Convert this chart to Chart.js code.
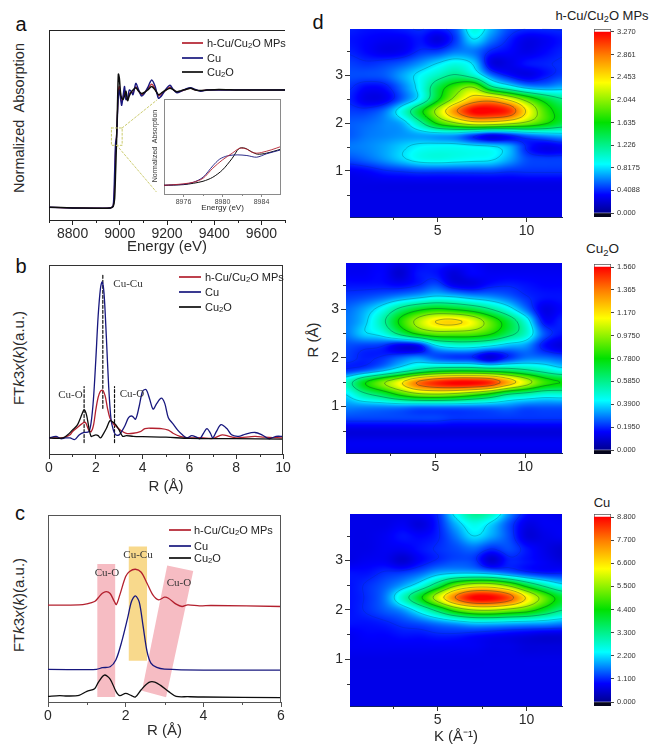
<!DOCTYPE html>
<html><head><meta charset="utf-8">
<script src="https://cdn.jsdelivr.net/npm/chart.js@4/dist/chart.umd.min.js"></script>
<style>
html,body{margin:0;padding:0;background:#fff;overflow:hidden;width:653px;height:749px;font-family:"Liberation Sans",Arial,sans-serif;color:#222}
canvas{position:absolute;display:block}
.t{position:absolute;white-space:pre;line-height:1;z-index:5}
.t sub{font-size:.7em;line-height:0;vertical-align:-.25em}
.sw{position:absolute;height:2px;opacity:.85;z-index:5}
</style></head><body>
<script>
// ---------- Panel a: XANES ----------
const aEnergy=[8700,8800,8900,8960,8972,8978,8982,8986,8990,8994,8998,9003,9008,9014,9020,9026,9033,9040,9048,9056,9068,9080,9092,9104,9118,9135,9150,9164,9180,9196,9213,9228,9242,9260,9280,9300,9320,9342,9370,9420,9500,9600,9700];
const aHybrid=[.008,.002,0,.002,.02,.2,.5,.6,.8,1.0,1.03,.95,.9,.94,.99,.93,.92,.97,.98,.98,1.03,.99,.96,.975,1.01,1.05,1.01,.95,.97,1.0,1.025,1.0,.98,.99,1.005,1.015,1.0,.995,1.0,1.0,1.0,1.0,1.0];
const aCu=[.008,.002,0,.002,.02,.3,.55,.6,.78,.95,1.0,.93,.87,.95,1.03,.92,.93,1.0,.99,.96,1.056,1.0,.95,.97,1.02,1.085,1.03,.93,.96,1.01,1.04,1.0,.977,.99,1.01,1.02,1.005,.99,1.0,1.0,1.0,1.0,1.0];
const aCu2O=[.008,.002,0,.002,.015,.08,.3,.55,.85,1.135,1.1,.98,.93,.92,.95,.99,.91,.95,.98,1.0,1.02,.99,.97,.98,1.0,1.03,1.0,.96,.98,1.0,1.015,1.0,.985,.995,1.005,1.015,1.0,.995,1.0,1.005,1.0,1.0,1.0];
const aZoomBoxE=[8964.5,9010,9010,8964.5,8964.5];
const aZoomBoxV=[.679,.679,.532,.532,.679];
const aLeaderTopE=[9010,9157], aLeaderTopV=[.679,.915];
const aLeaderBotE=[8987,9154], aLeaderBotV=[.532,.14];
// inset of a
const inHybE=[8974,8975.5,8977,8978,8979,8980,8981,8981.8,8982.5,8983,8983.5,8984,8985,8986];
const inHybH=[26,29,35,47,77,102,122,137,134,125,122,124,132,142];
const inCu2OE=[8974,8976,8977,8978,8979,8980,8981,8981.7,8982.3,8983,8983.6,8984.5,8986];
const inCu2OH=[26,28,32,38,50,72,107,136,137,126,119,122,134];
const inCuE=[8974,8976,8977,8978,8979,8979.7,8980.5,8981.5,8982.5,8983.5,8984.5,8986];
const inCuH=[26,29,35,50,84,104,114,117,115,110,120,132];
// ---------- Panel b: FT-EXAFS ----------
const bCuR=[0,.3,.5,.7,.9,1.1,1.3,1.5,1.7,1.8,1.9,2.0,2.1,2.2,2.27,2.35,2.45,2.55,2.65,2.75,2.85,3.0,3.1,3.25,3.4,3.55,3.7,3.85,4.0,4.15,4.3,4.45,4.6,4.8,4.95,5.1,5.3,5.5,5.7,5.9,6.1,6.3,6.45,6.6,6.75,6.9,7.0,7.15,7.35,7.6,7.8,8.1,8.4,8.8,9.1,9.4,9.7,10];
const bCu=[0,.01,-.005,0,0,-.01,.02,.035,.04,.1,.25,.5,.78,.96,1,.93,.65,.33,.12,.05,.02,.02,.04,.08,.13,.14,.12,.2,.3,.31,.25,.185,.22,.255,.22,.13,.09,.05,.02,0,.015,.005,-.005,.03,.06,.03,0,.04,.085,.06,.02,.01,.025,.035,.02,-.005,.01,.01];
const bHybR=[0,.5,.7,.9,1.0,1.2,1.4,1.55,1.7,1.8,1.9,2.0,2.1,2.2,2.3,2.4,2.5,2.6,2.75,2.9,3.05,3.3,3.6,3.9,4.1,4.4,4.8,5.1,5.3,5.6,6,6.5,7,7.4,7.7,8,8.8,9.2,10];
const bHyb=[0,0,.005,.02,.04,.065,.09,.1,.05,.04,.08,.18,.26,.3,.305,.27,.19,.13,.09,.07,.05,.03,.03,.04,.06,.062,.06,.05,.03,.01,0,.002,-.003,.02,.01,0,.01,.005,0];
const bOxR=[0,.3,.6,.8,1.0,1.2,1.35,1.5,1.6,1.7,1.8,1.9,2.0,2.1,2.2,2.3,2.45,2.6,2.7,2.85,3.0,3.15,3.3,3.6,4,5,6,8,10];
const bOx=[0,-.002,0,.02,.05,.08,.13,.18,.15,.07,.01,.015,.02,.015,0,.02,.06,.11,.105,.085,.05,.01,.015,.01,.008,.005,-.003,-.005,-.008];
const bDashR=[1.5,2.3,2.8];
const bDashLow=[-.03,.19,-.03];
const bDashHigh=[.33,1.05,.33];
// ---------- Panel c: FT-EXAFS stacked (heights in a.u.) ----------
const cHybR=[0,.8,1.0,1.2,1.3,1.4,1.5,1.6,1.7,1.76,1.85,2.0,2.1,2.25,2.4,2.55,2.7,2.85,3.0,3.1,3.3,3.45,3.6,3.9,4.2,6];
const cHyb=[291,292,295,302,314,327,332,326,304,293,322,377,392,399,390,357,322,307,315,312,294,287,292,289,290,287];
const cCuR=[0,1.0,1.25,1.4,1.6,1.75,1.9,2.05,2.15,2.25,2.35,2.45,2.55,2.65,2.8,3,4,6];
const cCu=[98,97,98,103,106,127,182,252,302,319,300,227,152,117,104,99,96,96];
const cOxR=[0,.3,.5,.8,1.0,1.2,1.3,1.45,1.6,1.75,1.85,2.0,2.15,2.25,2.4,2.6,2.75,2.9,3.1,3.3,3.6,4,6];
const cOx=[17,19,18,20,32,40,60,81,69,32,19,26,19,15,37,59,60,50,32,17,16,15,13];
const cBandOneR=[1.27,1.73,1.73,1.27], cBandOneH=[415,415,15,15];
const cBandCuR=[2.08,2.55,2.55,2.08], cBandCuH=[467,467,124,124];
const cBandTwoR=[3.07,3.74,3.04,2.42], cBandTwoH=[410,394,14,34];
// ---------- Panel d: wavelet maps, % of colour-scale top. rows R=4 ... 0 step .25, columns k=0..12 ----------
const kCols=[0,1,2,3,4,5,6,7,8,9,10,11,12];
const rRows=[4,3.75,3.5,3.25,3,2.75,2.5,2.25,2,1.75,1.5,1.25,1,.75,.5,.25,0];
const zHybrid=[
[12,11,11,12,13,12,16,30,22,15,13,13,13],
[11,10,9,9,11,7,14,25,18,12,8,9,11],
[12,10,8,9,13,14,18,18,12,10,8,10,12],
[14,13,14,16,20,25,29,24,8,8,11,12,13],
[15,15,16,21,27,33,38,32,18,11,8,11,14],
[13,10,11,18,28,44,56,62,40,30,22,20,22],
[12,8,9,17,28,48,66,80,82,72,58,46,38],
[14,14,18,30,47,66,86,100,100,95,74,56,46],
[16,17,19,22,35,52,62,70,70,66,60,52,44],
[16,18,19,20,21,21,20,14,9,12,17,20,22],
[18,19,21,24,27,28,28,27,26,22,12,8,9],
[15,17,20,24,28,29,28,27,26,21,15,14,14],
[9,10,12,13,14,14,14,14,14,13,13,13,13],
[8,8,8,8,8,8,8,8,8,8,8,8,8],
[8,8,8,8,8,8,8,8,8,8,8,8,8],
[8,8,8,8,8,8,8,8,8,8,8,8,8],
[8,8,8,8,8,8,8,8,8,8,8,8,8]];
const zCu2O=[
[9,9,10,9,10,12,12,10,8,8,8,8,8],
[9,9,10,6,11,11,7,10,9,9,9,9,9],
[11,11,11,10,12,15,9,8,11,12,11,10,10],
[14,15,17,20,23,26,25,22,20,17,13,11,11],
[17,21,28,39,47,51,49,45,38,29,18,8,10],
[18,23,34,51,65,75,77,71,58,45,30,11,12],
[18,24,28,40,52,58,58,57,52,42,32,16,11],
[15,14,13,8,9,24,29,29,26,22,20,11,7],
[14,12,13,17,20,16,14,13,7,13,18,18,16],
[13,16,22,30,38,44,46,46,44,42,38,33,28],
[32,48,60,72,88,96,100,100,96,82,68,55,50],
[25,35,42,52,60,62,60,55,48,38,34,30,30],
[19,19,19,19,18,18,18,18,18,18,16,16,16],
[14,14,14,14,14,14,13,13,13,13,13,13,13],
[7,7,7,7,7,7,7,7,7,7,7,7,7],
[9,9,9,9,9,9,9,9,9,9,9,9,9],
[8,8,8,8,8,8,8,8,8,8,8,8,8]];
const zCu=[
[8,8,8,8,10,13,28,38,34,20,11,9,8],
[8,8,8,9,7,12,22,29,24,15,8,9,9],
[8,8,9,11,10,12,18,25,21,15,7,8,9],
[8,8,9,9,11,13,15,17,13,15,11,8,6],
[8,9,9,6,10,13,15,14,6,12,11,9,7],
[11,11,13,14,17,22,24,24,22,18,14,12,12],
[11,13,16,21,29,43,60,68,68,60,46,35,27],
[11,13,18,32,48,68,88,100,100,92,74,58,46],
[11,13,16,20,29,41,55,63,64,60,55,46,38],
[11,11,12,14,16,19,22,25,25,24,23,22,20],
[9,10,10,11,11,12,12,11,10,9,8,7,7],
[9,9,9,9,9,9,9,9,8,8,7,7,7],
[8,8,8,8,8,8,8,8,8,8,8,8,8],
[8,8,8,8,8,8,8,8,8,8,8,8,8],
[8,8,8,8,8,8,8,8,8,8,8,8,8],
[8,8,8,8,8,8,8,8,8,8,8,8,8],
[8,8,8,8,8,8,8,8,8,8,8,8,8]];
const contourLevels=[12.5,25,37.5,50,62.5,75,87.5];
const barHybrid=["3.270","2.861","2.453","2.044","1.635","1.226","0.8175","0.4088","0.000"];
const barCu2O=["1.560","1.365","1.170","0.9750","0.7800","0.5850","0.3900","0.1950","0.000"];
const barCu=["8.800","7.700","6.600","5.500","4.400","3.300","2.200","1.100","0.000"];

// ---------- helpers ----------
const FONT='"Liberation Sans",Arial,sans-serif';
const RED='#b3202e',NAVY='#17177e',BLACK='#0d0d0d',LEAD='#cbcb6e';
Chart.defaults.font.family=FONT;
Chart.defaults.animation=false;
const stops=[[0,[0,0,144]],[10,[0,0,255]],[27,[0,255,255]],[50,[0,225,0]],[72,[255,255,0]],[87,[255,128,0]],[100,[255,0,0]]];
function jet(z){z=Math.max(0,Math.min(100,z));
 for(let i=1;i<stops.length;i++){if(z<=stops[i][0]){const a=stops[i-1],b=stops[i],t=(z-a[0])/(b[0]-a[0]);
  return [0,1,2].map(j=>a[1][j]+(b[1][j]-a[1][j])*t);}}
 return stops[stops.length-1][1];}
const css=c=>`rgb(${c.map(Math.round).join(',')})`;
function txt(html,x,y,style,rot){const d=document.createElement('div');d.className='t';d.innerHTML=html;
 d.style.cssText=`left:${x}px;top:${y}px;transform:translate(-50%,-50%)${rot?' rotate(-90deg)':''};${style||''}`;document.body.appendChild(d);}
function legend(x0,x1,xt,ys,size){[[RED,'h-Cu/Cu<sub>2</sub>O MPs'],[NAVY,'Cu'],[BLACK,'Cu<sub>2</sub>O']].forEach((e,i)=>{
 const s=document.createElement('div');s.className='sw';s.style.cssText=`left:${x0}px;width:${x1-x0}px;top:${Math.round(ys[i])-1}px;background:${e[0]}`;document.body.appendChild(s);
 const d=document.createElement('div');d.className='t';d.innerHTML=e[1];d.style.cssText=`left:${xt}px;top:${ys[i]}px;transform:translateY(-50%);font-size:${size}px;color:#222`;document.body.appendChild(d);});}
function cv(p,pad,z){const c=document.createElement('canvas');const w=p.r-p.l+pad.l+pad.r,h=p.b-p.t+pad.t+pad.b;
 c.width=w;c.height=h;c.style.cssText=`left:${p.l-pad.l}px;top:${p.t-pad.t}px;width:${w}px;height:${h}px;z-index:${z||1}`;document.body.appendChild(c);return c;}
function fix(size){return s=>{if(s.isHorizontal())s.height=size;else s.width=size;s.paddingLeft=s.paddingRight=s.paddingTop=s.paddingBottom=0;};}
function decor(o){return {id:'decor',
 beforeDatasetsDraw(ch){const c=ch.ctx,X=ch.scales.x,Y=ch.scales.y;
  (o.polys||[]).forEach(q=>{c.save();c.fillStyle=q.color;c.beginPath();q.xs.forEach((v,i)=>{const px=X.getPixelForValue(v),py=Y.getPixelForValue(q.ys[i]);i?c.lineTo(px,py):c.moveTo(px,py);});c.closePath();c.fill();c.restore();});},
 afterDraw(ch){const c=ch.ctx,X=ch.scales.x,Y=ch.scales.y,A=ch.chartArea;c.save();c.strokeStyle=o.color||'#333';c.lineWidth=1;c.beginPath();
  (o.minorX||[]).forEach(v=>{const p=Math.round(X.getPixelForValue(v))+.5;c.moveTo(p,A.bottom);c.lineTo(p,A.bottom+(o.minorLen||3));});
  (o.minorY||[]).forEach(v=>{const p=Math.round(Y.getPixelForValue(v))+.5;c.moveTo(A.left,p);c.lineTo(A.left-(o.minorLen||3),p);});
  const s=o.sides||'';if(s.includes('t')){c.moveTo(A.left,A.top+.5);c.lineTo(A.right,A.top+.5);}
  if(s.includes('r')){c.moveTo(A.right-.5,A.top);c.lineTo(A.right-.5,A.bottom);}
  c.stroke();c.restore();}};}
const xy=(xs,ys)=>xs.map((x,i)=>({x,y:ys[i]}));
const ln=(xs,ys,color,w,t)=>({data:xy(xs,ys),borderColor:color,backgroundColor:color,borderWidth:w,pointRadius:0,showLine:true,tension:t,borderCapStyle:'round',borderJoinStyle:'round'});
function lineChart(p,pad,cfg){
 const col=cfg.axis||'#333',fs=cfg.fs||14;
 return new Chart(cv(p,pad,cfg.z),{type:'scatter',data:{datasets:cfg.sets},plugins:[decor({minorX:cfg.minorX,minorY:cfg.minorY,sides:cfg.sides,color:col,polys:cfg.polys,minorLen:cfg.minorLen})],
  options:{responsive:false,devicePixelRatio:1,events:[],layout:{autoPadding:false,padding:{top:pad.t,right:pad.r,left:0,bottom:0}},
   plugins:{legend:{display:false},tooltip:{enabled:false},title:{display:false}},
   scales:{x:{type:'linear',position:'bottom',min:cfg.x[0],max:cfg.x[1],z:1,afterFit:fix(pad.b),afterBuildTicks:s=>{s.ticks=cfg.xt.map(v=>({value:v}));},
     grid:{drawOnChartArea:false,drawTicks:true,tickLength:cfg.tickLen||5,tickColor:col},border:{color:col,width:1},
     ticks:{font:{size:fs},color:cfg.tc||'#2a2a2a',padding:cfg.pad||1,maxRotation:0,autoSkip:false,callback:v=>String(v)},
     title:{display:!!cfg.xTitle,text:cfg.xTitle,font:{size:cfg.tfs||15},color:'#2a2a2a',padding:0}},
    y:{type:'linear',min:cfg.y[0],max:cfg.y[1],z:1,afterFit:fix(pad.l),grid:{display:false},border:{color:col,width:1},ticks:{display:false}}}}});
}
// ---------- panel a (first dataset is painted last) ----------
lineChart({l:49,t:30,r:285,b:220},{l:10,t:2,r:10,b:36},{x:[8700,9700],y:[-.1,1.508],xt:[8800,9000,9200,9400,9600],minorX:[8700,8900,9100,9300,9500,9700],sides:'t',xTitle:'Energy (eV)',axis:'#222',
 sets:[ln(aZoomBoxE,aZoomBoxV,LEAD,1,0),ln(aLeaderTopE,aLeaderTopV,LEAD,1,0),ln(aLeaderBotE,aLeaderBotV,LEAD,1,0),
  ln(aEnergy,aCu2O,BLACK,1.5,.25),ln(aEnergy,aCu,NAVY,1.4,.25),ln(aEnergy,aHybrid,RED,1.2,.25)].map((d,i)=>i<3?Object.assign(d,{borderDash:[2,2]}):d)});
// inset
(function(){const p={l:164,t:99,r:281,b:194},pad={l:0,t:0,r:0,b:19};
 lineChart(p,pad,{z:2,x:[8974,8986],y:[0,284],xt:[8976,8980,8984],minorX:[8978,8982],minorLen:2,tickLen:3,fs:7,tfs:8,tc:'#444',pad:1,sides:'tr',axis:'#8a8a8a',xTitle:'Energy (eV)',
  sets:[ln(inHybE,inHybH,RED,.9,.3),ln(inCuE,inCuH,NAVY,.9,.3),ln(inCu2OE,inCu2OH,BLACK,1,.3)]});})();
// ---------- panel b ----------
lineChart({l:49,t:265,r:283,b:454},{l:10,t:2,r:14,b:42},{x:[0,10],y:[-.103,1.109],xt:[0,2,4,6,8,10],minorX:[1,3,5,7,9],sides:'tr',xTitle:'R (Å)',
 sets:[ln(bOxR,bOx,BLACK,1.3,.3),ln(bCuR,bCu,NAVY,1.3,.3),ln(bHybR,bHyb,RED,1.3,.3)].concat(bDashR.map((r,i)=>Object.assign(ln([r,r],[bDashLow[i],bDashHigh[i]],'#111',1.2,0),{borderDash:[3,2]})))});
// ---------- panel c ----------
lineChart({l:48,t:515,r:281,b:702},{l:10,t:2,r:14,b:38},{x:[0,6],y:[0,562],xt:[0,2,4,6],minorX:[1,3,5],sides:'tr',xTitle:'R (Å)',axis:'#555',
 polys:[{xs:cBandOneR,ys:cBandOneH,color:'#f6bcc3'},{xs:cBandTwoR,ys:cBandTwoH,color:'#f6bcc3'},{xs:cBandCuR,ys:cBandCuH,color:'#f8d98c'}],
 sets:[ln(cHybR,cHyb,RED,1.3,.3),ln(cCuR,cCu,NAVY,1.3,.3),ln(cOxR,cOx,BLACK,1.3,.3)]});
// ---------- panel d heat maps ----------
function heat(grid){
 const nr=rRows.length,nc=kCols.length,dR=rRows[0]-rRows[1];
 const cr=(a,b,c,d,t)=>.5*((2*b)+(-a+c)*t+(2*a-5*b+4*c-d)*t*t+(-a+3*b-3*c+d)*t*t*t);
 const g=(i,j)=>grid[Math.max(0,Math.min(nr-1,i))][Math.max(0,Math.min(nc-1,j))];
 function f(k,R){const u=Math.max(0,Math.min(nc-1,k-kCols[0])),v=Math.max(0,Math.min(nr-1,(rRows[0]-R)/dR));
  const j=Math.min(nc-2,Math.floor(u)),i=Math.min(nr-2,Math.floor(v)),tu=u-j,tv=v-i,row=[];
  for(let a=-1;a<3;a++)row.push(cr(g(i+a,j-1),g(i+a,j),g(i+a,j+1),g(i+a,j+2),tu));
  return cr(row[0],row[1],row[2],row[3],tv);}
 return {id:'heat',afterDatasetsDraw(ch){
  const A=ch.chartArea,X=ch.scales.x,Y=ch.scales.y,c=ch.ctx,L=Math.round(A.left),T=Math.round(A.top),w=Math.round(A.right-A.left),h=Math.round(A.bottom-A.top);
  const F=new Float32Array((w+1)*(h+1));
  for(let y=0;y<=h;y++){const R=Y.getValueForPixel(T+y);for(let x=0;x<=w;x++){F[y*(w+1)+x]=f(X.getValueForPixel(L+x),R);}}
  const im=c.createImageData(w,h);
  for(let y=0;y<h;y++)for(let x=0;x<w;x++){const q=jet(F[y*(w+1)+x]),o=(y*w+x)*4;im.data[o]=q[0];im.data[o+1]=q[1];im.data[o+2]=q[2];im.data[o+3]=255;}
  c.putImageData(im,L,T);
  c.save();c.lineWidth=.6;
  const st=2;
  for(const lev of contourLevels){c.strokeStyle=`rgba(0,45,55,${lev<20?.22:lev<30?.42:.58})`;c.beginPath();
   for(let y=0;y+st<=h;y+=st)for(let x=0;x+st<=w;x+=st){
    const a=F[y*(w+1)+x],b=F[y*(w+1)+x+st],d=F[(y+st)*(w+1)+x],e=F[(y+st)*(w+1)+x+st],P=[];
    if((a<lev)!==(b<lev))P.push([x+st*(lev-a)/(b-a),y]);
    if((b<lev)!==(e<lev))P.push([x+st,y+st*(lev-b)/(e-b)]);
    if((d<lev)!==(e<lev))P.push([x+st*(lev-d)/(e-d),y+st]);
    if((a<lev)!==(d<lev))P.push([x,y+st*(lev-a)/(d-a)]);
    for(let n=0;n+1<P.length;n+=2){c.moveTo(L+P[n][0],T+P[n][1]);c.lineTo(L+P[n+1][0],T+P[n+1][1]);}
   }
   c.stroke();}
  c.restore();}};
}
function heatChart(p,pad,grid,xr,yr,xTitle){
 const cells=[];rRows.forEach((R,i)=>kCols.forEach((k,j)=>cells.push({x:k,y:R,v:grid[i][j]})));
 new Chart(cv(p,pad),{type:'scatter',data:{datasets:[{data:cells,pointStyle:'rect',pointRadius:14,pointBorderWidth:0,backgroundColor:c=>css(jet(c.raw?c.raw.v:0))}]},plugins:[heat(grid),decor({minorX:[2.5,7.5],minorY:[.5,1.5,2.5,3.5],color:'#333'})],
  options:{responsive:false,devicePixelRatio:1,events:[],layout:{autoPadding:false,padding:{top:pad.t,right:pad.r,left:0,bottom:0}},plugins:{legend:{display:false},tooltip:{enabled:false}},
   scales:{x:{type:'linear',min:xr[0],max:xr[1],z:1,afterFit:fix(pad.b),afterBuildTicks:s=>{s.ticks=[5,10].map(v=>({value:v}));},grid:{drawOnChartArea:false,tickLength:5,tickColor:'#333'},border:{color:'#12205c',width:1},ticks:{font:{size:14},color:'#2a2a2a',padding:1,maxRotation:0,callback:v=>String(v)},title:{display:!!xTitle,text:xTitle,font:{size:15},color:'#2a2a2a',padding:0}},
    y:{type:'linear',min:yr[0],max:yr[1],z:1,afterFit:fix(pad.l),afterBuildTicks:s=>{s.ticks=[1,2,3].map(v=>({value:v}));},grid:{drawOnChartArea:false,tickLength:5,tickColor:'#333'},border:{color:'#12205c',width:1},ticks:{font:{size:14},color:'#2a2a2a',padding:2,callback:v=>String(v)}}}}});
}
heatChart({l:350,t:29,r:562,b:217},{l:22,t:2,r:6,b:24},zHybrid,[.06,12],[.04,3.96]);
heatChart({l:346,t:263,r:562,b:453},{l:22,t:2,r:6,b:24},zCu2O,[.04,12.04],[.043,3.945]);
heatChart({l:350,t:514,r:562,b:706},{l:22,t:2,r:6,b:40},zCu,[.06,12],[.048,3.944],'K (Å⁻¹)');
// colour bars
function colorBar(p,labels,zeroPx,topPx){
 const top=Number(labels[0]),per=top/(zeroPx-topPx),lo=-(p.b-zeroPx)*per,hi=top+(topPx-p.t)*per,pad={l:0,t:2,r:40,b:2};
 new Chart(cv(p,pad),{type:'bar',data:{labels:[''],datasets:[
  {data:[[lo,0]],backgroundColor:'#05051c'},
  {data:[[0,top]],backgroundColor:c=>{const ch=c.chart;if(!ch.chartArea)return '#00f';const Y=ch.scales.y,gr=ch.ctx.createLinearGradient(0,Y.getPixelForValue(0),0,Y.getPixelForValue(top));stops.forEach(s=>gr.addColorStop(s[0]/100,css(s[1])));return gr;}},
  {data:[[top,hi]],backgroundColor:'#fff',borderColor:'#555',borderWidth:1}]},
  options:{responsive:false,devicePixelRatio:1,events:[],grouped:false,barPercentage:1,categoryPercentage:1,layout:{autoPadding:false,padding:{top:pad.t,bottom:pad.b,left:0,right:0}},plugins:{legend:{display:false},tooltip:{enabled:false}},
   scales:{x:{display:false},y:{position:'right',min:lo,max:hi,afterFit:fix(pad.r),afterBuildTicks:s=>{s.ticks=labels.map(l=>({value:Number(l)}));},grid:{drawOnChartArea:false,tickLength:3,tickColor:'#444'},border:{display:false},ticks:{font:{size:7.5},color:'#333',padding:3,autoSkip:false,callback:v=>labels.find(l=>Number(l)===v)}}}}});
}
colorBar({l:594,t:29,r:611,b:217},barHybrid,213,32);
colorBar({l:594,t:264,r:611,b:454},barCu2O,450,267);
colorBar({l:594,t:514,r:611,b:706},barCu,702,517);
// ---------- text ----------
const LET='font-size:20px;color:#111';
txt('a',21,24,LET);txt('b',21,266,LET);txt('c',20,513,LET);txt('d',318,22,LET);
txt('Normalized  Absorption',18.5,118,'font-size:14.5px;color:#2a2a2a',true);
const FT='FT<i>k</i>3<i>x</i>(<i>k</i>)(a.u.)';
txt(FT,18,358,'font-size:15px;color:#2a2a2a',true);
txt(FT,18,605,'font-size:15px;color:#2a2a2a',true);
txt('R (Å)',312,340,'font-size:15px;color:#2a2a2a',true);
txt('Normalized  Absorption',154,146,'font-size:7px;color:#333',true);
legend(182,203,207,[42.7,58,72],11);
legend(179,201,205,[277,292.3,306.7],11);
legend(169,191,194,[530,545.7,558.3],11);
const SER='font-family:"Liberation Serif",serif;font-size:11px;color:#333';
txt('Cu-Cu',128,283,SER);txt('Cu-O',70.5,394,SER);txt('Cu-O',132,393,SER);
txt('Cu-O',107,572,SER);txt('Cu-Cu',138,554,SER);txt('Cu-O',179,582,SER);
txt('h-Cu/Cu<sub>2</sub>O MPs',602,15,'font-size:13px;color:#222');
txt('Cu<sub>2</sub>O',602.5,249,'font-size:13.5px;color:#222');
txt('Cu',602,502,'font-size:13px;color:#222');
</script>
</body></html>
